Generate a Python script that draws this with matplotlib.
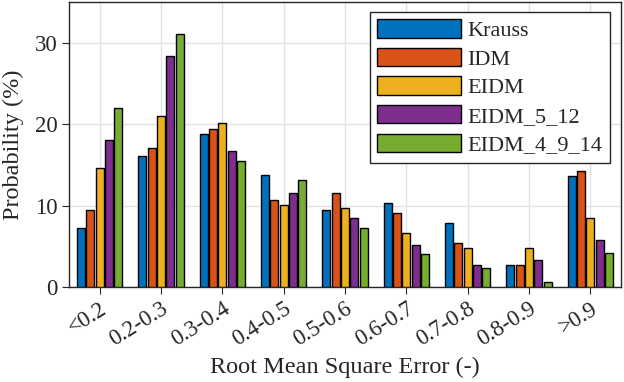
import matplotlib
matplotlib.use("Agg")
import matplotlib.pyplot as plt
import numpy as np

plt.rcParams['font.family'] = ['Liberation Serif', 'DejaVu Serif']
plt.rcParams['mathtext.fontset'] = 'stix'

categories = ['<0.2', '0.2-0.3', '0.3-0.4', '0.4-0.5', '0.5-0.6', '0.6-0.7', '0.7-0.8', '0.8-0.9', '>0.9']
series_names = ['Krauss', 'IDM', 'EIDM', 'EIDM_5_12', 'EIDM_4_9_14']
krauss = [7.2, 16.1, 18.8, 13.8, 9.5, 10.3, 7.9, 2.7, 13.6]
idm = [9.45, 17.1, 19.4, 10.7, 11.6, 9.1, 5.4, 2.7, 14.2]
eidm = [14.6, 21.0, 20.2, 10.1, 9.7, 6.6, 4.8, 4.8, 8.5]
eidm_5_12 = [18.1, 28.4, 16.7, 11.6, 8.5, 5.2, 2.7, 3.35, 5.8]
eidm_4_9_14 = [22.0, 31.1, 15.5, 13.2, 7.2, 4.1, 2.3, 0.65, 4.2]
yticks = [0, 10, 20, 30]

series = [krauss, idm, eidm, eidm_5_12, eidm_4_9_14]
colors = ['#0072BD', '#D95319', '#EDB120', '#7E2F8E', '#77AC30']
tc = '#262626'

fig = plt.figure(figsize=(6.24, 3.82), dpi=100)
ax = fig.add_axes([69/624, 1-287/382, (621-69)/624, 285/382])

x = np.arange(1, len(categories)+1)
pitch = 0.153
for i, (vals, name, c) in enumerate(zip(series, series_names, colors)):
    ax.bar(x + (i-2)*pitch, vals, width=0.132, color=c, edgecolor='black',
           linewidth=1.0, label=name, zorder=3)

ax.set_xlim(0.5, 9.5)
ax.set_ylim(0, 35)
ax.set_xticks(x)
ax.set_xticklabels(categories, rotation=32, ha='right', rotation_mode='anchor', fontsize=16.5, color=tc)
ax.set_yticks(yticks)
ax.set_yticklabels([str(v) for v in yticks], fontsize=16.5, color=tc)
ax.tick_params(direction='out', length=5, width=0.8, color=tc, pad=3)
ax.tick_params(axis='x', pad=3)
ax.grid(True, color='#e3e3e3', linewidth=1.0, zorder=0)
ax.set_axisbelow(True)
for s in ax.spines.values():
    s.set_color(tc)
    s.set_linewidth(1.0)
ax.set_xlabel('Root Mean Square Error (-)', fontsize=17.5, color=tc, labelpad=5)
ax.set_ylabel('Probability (%)', fontsize=17.5, color=tc, labelpad=8)

leg = ax.legend(loc='upper right', bbox_to_anchor=(610/624, 1-12/382), bbox_transform=fig.transFigure,
                fontsize=16, handlelength=84/22.2, handleheight=0.9, handletextpad=0.3,
                labelspacing=0.3, borderpad=0.33, borderaxespad=0, fancybox=False, framealpha=1,
                edgecolor=tc)
leg.get_frame().set_linewidth(1.0)
for t in leg.get_texts():
    t.set_color(tc)

fig.savefig('out.png', dpi=100)
